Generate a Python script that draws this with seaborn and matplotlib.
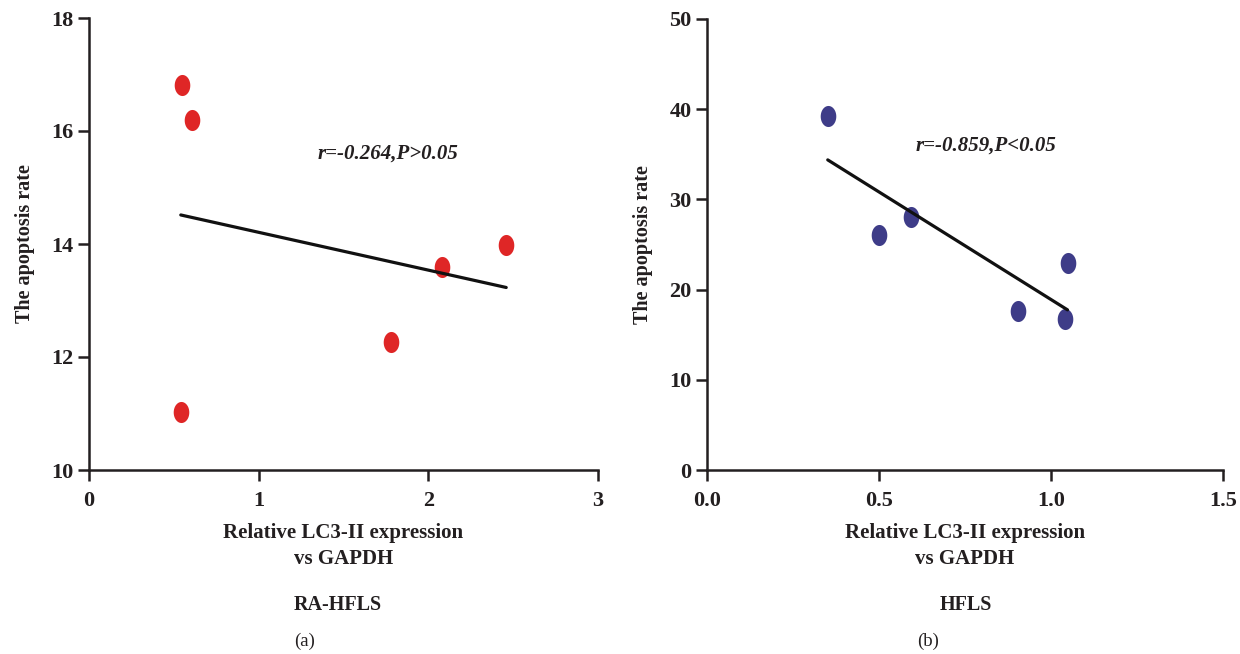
import numpy as np
import pandas as pd
import matplotlib
matplotlib.use('Agg')
import matplotlib.pyplot as plt
from matplotlib.path import Path
import seaborn as sns

sns.set_style('white')
plt.rcParams['font.family'] = ['Liberation Serif', 'DejaVu Serif']
plt.rcParams['font.weight'] = 'bold'

# RA-HFLS panel (a)
ra_lc3 = [0.546, 0.609, 0.541, 1.78, 2.083, 2.459]
ra_apop = [16.82, 16.20, 11.02, 12.27, 13.59, 13.99]
# HFLS panel (b)
hf_lc3 = [0.351, 0.501, 0.592, 0.903, 1.042, 1.048]
hf_apop = [39.24, 26.08, 28.02, 17.64, 16.71, 22.99]

RED = '#DF2626'
BLUE = '#3E3C88'
INK = '#231F20'

# slightly tall ellipse marker, like the original dots
t = np.linspace(0, 2 * np.pi, 60)
ell = Path(np.column_stack([0.74 * np.cos(t), np.sin(t)]), closed=True)

fig = plt.figure(figsize=(12.4, 6.54), dpi=100)
ax1 = fig.add_axes([89 / 1240, 1 - 470 / 654, (598 - 89) / 1240, (470 - 18) / 654])
ax2 = fig.add_axes([707 / 1240, 1 - 470 / 654, (1223 - 707) / 1240, (470 - 19) / 654])


def panel(ax, x, y, color, xlim, ylim, xticks, yticks, xfmt, note, note_xy):
    df = pd.DataFrame({'x': x, 'y': y})
    sns.regplot(data=df, x='x', y='y', ax=ax, ci=None, marker=ell,
                scatter_kws={'s': 230, 'color': color, 'alpha': 1, 'linewidths': 0},
                line_kws={'color': '#111111', 'linewidth': 2.3})
    ax.set_xlim(*xlim)
    ax.set_ylim(*ylim)
    ax.set_xticks(xticks)
    ax.set_xticklabels([xfmt.format(v) for v in xticks])
    ax.set_yticks(yticks)
    for s in ['top', 'right']:
        ax.spines[s].set_visible(False)
    for s in ['left', 'bottom']:
        ax.spines[s].set_linewidth(1.8)
        ax.spines[s].set_color(INK)
    ax.tick_params(axis='both', direction='out', length=8, width=1.8, color=INK,
                   labelsize=16, labelcolor=INK, left=True, bottom=True)
    ax.tick_params(axis='x', pad=7)
    ax.tick_params(axis='y', pad=3)
    for lab in ax.get_xticklabels() + ax.get_yticklabels():
        lab.set_fontweight('bold')
    ax.set_xlabel('Relative LC3-II expression\nvs GAPDH', fontsize=15,
                  fontweight='bold', color=INK, labelpad=9, linespacing=1.35)
    ax.set_ylabel('The apoptosis rate', fontsize=14.5, fontweight='bold',
                  color=INK, labelpad=12)
    ax.text(note_xy[0], note_xy[1], note, fontsize=15, fontweight='bold',
            fontstyle='italic', color=INK, va='center', ha='left')


panel(ax1, ra_lc3, ra_apop, RED, (0, 3), (10, 18), [0, 1, 2, 3], [10, 12, 14, 16, 18],
      '{:g}', 'r=-0.264,P>0.05', (1.348, 15.6))
panel(ax2, hf_lc3, hf_apop, BLUE, (0, 1.5), (0, 50), [0.0, 0.5, 1.0, 1.5],
      [0, 10, 20, 30, 40, 50], '{:.1f}', 'r=-0.859,P<0.05', (0.605, 36.0))

fig.text(338 / 1240, 1 - 605 / 654, 'RA-HFLS', ha='center', va='center',
         fontsize=14.5, fontweight='bold', color=INK)
fig.text(305 / 1240, 1 - 641 / 654, '(a)', ha='center', va='center',
         fontsize=13.5, fontweight='normal', color=INK)
fig.text(966 / 1240, 1 - 605 / 654, 'HFLS', ha='center', va='center',
         fontsize=14.5, fontweight='bold', color=INK)
fig.text(928 / 1240, 1 - 641 / 654, '(b)', ha='center', va='center',
         fontsize=13.5, fontweight='normal', color=INK)

fig.savefig('out.png', dpi=100, facecolor='white')
